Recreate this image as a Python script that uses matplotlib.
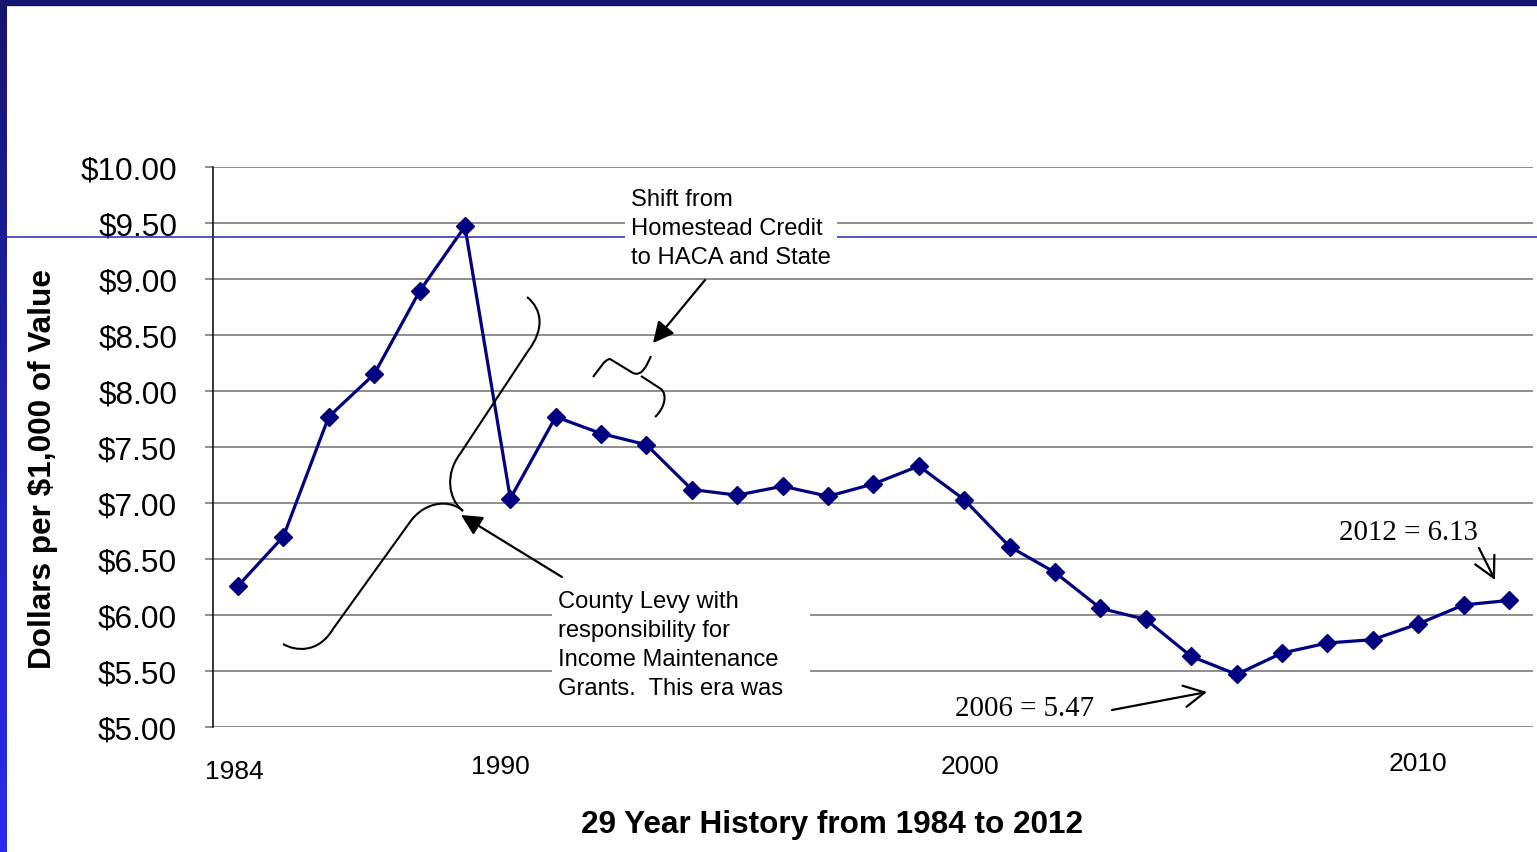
import matplotlib
matplotlib.use('Agg')
import matplotlib.pyplot as plt
import matplotlib.transforms as mtransforms
from matplotlib.patches import Rectangle, FancyArrowPatch, PathPatch
from matplotlib.path import Path
from matplotlib.lines import Line2D
from matplotlib.colors import LinearSegmentedColormap
import numpy as np

# ---------------- data ----------------
years = list(range(1984, 2013))
rates = [6.26, 6.70, 7.77, 8.15, 8.89, 9.47, 7.04, 7.77, 7.62, 7.52,
         7.12, 7.07, 7.15, 7.06, 7.17, 7.33, 7.03, 6.61, 6.38, 6.06,
         5.96, 5.63, 5.47, 5.66, 5.75, 5.78, 5.92, 6.09, 6.13]
yticks = [5.0, 5.5, 6.0, 6.5, 7.0, 7.5, 8.0, 8.5, 9.0, 9.5, 10.0]
ytick_labels = ['$5.00', '$5.50', '$6.00', '$6.50', '$7.00', '$7.50',
                '$8.00', '$8.50', '$9.00', '$9.50', '$10.00']
year_labels = ['1984', '1990', '2000', '2010']
xlabel = '29 Year History from 1984 to 2012'
ylabel = 'Dollars per $1,000 of Value'
shift_note = ['Shift from', 'Homestead Credit', 'to HACA and State']
county_note = ['County Levy with', 'responsibility for',
               'Income Maintenance', 'Grants.  This era was']
note_2006 = '2006 = 5.47'
note_2012 = '2012 = 6.13'

# ---------------- figure ----------------
W, H = 1537, 853
fig = plt.figure(figsize=(W / 100, H / 100), dpi=100)
fig.patch.set_facecolor('white')
SANS = 'Liberation Sans'
SERIF = 'Liberation Serif'

# pixel transform (origin top-left)
pix = mtransforms.Affine2D().scale(1 / W, -1 / H).translate(0, 1) + fig.transFigure

ax = fig.add_axes([213 / W, (H - 728) / H, (1533 - 213) / W, (728 - 168) / H])
ax.set_xlim(1983.45, 2012.53)
ax.set_ylim(5, 10)
ax.set_yticks(yticks)
ax.set_yticklabels(ytick_labels, fontsize=22.7, family=SANS)
ax.set_xticks([])
ax.yaxis.grid(True, color='#7a7a7a', lw=1.2)
ax.set_axisbelow(True)
for s in ['top', 'right', 'bottom']:
    ax.spines[s].set_visible(False)
ax.spines['left'].set_color('black')
ax.spines['left'].set_linewidth(1.1)
ax.tick_params(axis='y', length=5.8, width=1.2, color='#7a7a7a', pad=20)

ax.plot(years, rates, color='#000080', lw=2.3, marker='D', ms=9,
        markerfacecolor='#000080', markeredgecolor='#000080', zorder=5,
        clip_on=False)

# year labels (manually placed text boxes in the original)
yl_x = [1983.91, 1989.77, 2000.13, 2010.0]
yl_y = [-0.0786, -0.0696, -0.0696, -0.0643]
btrans = mtransforms.blended_transform_factory(ax.transData, ax.transAxes)
for lab, xx, yy in zip(year_labels, yl_x, yl_y):
    ax.text(xx, yy, lab, transform=btrans, ha='center', va='center',
            fontsize=19, family=SANS)

fig.text(832 / W, 1 - 825 / H, xlabel, ha='center', va='center',
         fontsize=22.7, fontweight='bold', family=SANS)
fig.text(43 / W, 1 - 469 / H, ylabel, ha='center', va='center', rotation=90,
         fontsize=22.7, fontweight='bold', family=SANS)

# ---------------- slide decoration ----------------
fig.add_artist(Rectangle((0, 0), W, 6, transform=pix, color='#161670', zorder=10))
gax = fig.add_axes([0, 0, 7 / W, 1 - 6 / H], zorder=10)
grad = np.linspace(0, 1, 256).reshape(-1, 1)
cm = LinearSegmentedColormap.from_list('bar', ['#161670', '#2a2af0'])
gax.imshow(grad, aspect='auto', cmap=cm, extent=[0, 1, 0, 1], origin='upper')
gax.axis('off')
fig.add_artist(Line2D([7, W], [238, 238], transform=pix, color='#2626b0',
                      lw=1.1, zorder=1))

# white text boxes
fig.add_artist(Rectangle((625, 183), 212, 87, transform=pix, facecolor='white',
                         edgecolor='none', zorder=2))
fig.add_artist(Rectangle((552, 586), 258, 119, transform=pix, facecolor='white',
                         edgecolor='none', zorder=2))

# annotation texts
for i, t in enumerate(shift_note):
    fig.text(631 / W, 1 - (200 + 29 * i) / H, t, ha='left', va='center',
             fontsize=17.1, family=SANS, zorder=3)
for i, t in enumerate(county_note):
    fig.text(558 / W, 1 - (602 + 29 * i) / H, t, ha='left', va='center',
             fontsize=17.1, family=SANS, zorder=3)
fig.text(955 / W, 1 - 709 / H, note_2006, ha='left', va='center',
         fontsize=20.8, family=SERIF, zorder=3)
fig.text(1339 / W, 1 - 533 / H, note_2012, ha='left', va='center',
         fontsize=20.8, family=SERIF, zorder=3)

# arrows
def arrow(p0, p1, style):
    a = FancyArrowPatch(p0, p1, transform=pix, arrowstyle=style,
                        mutation_scale=14, lw=1.6, color='black',
                        shrinkA=0, shrinkB=0, zorder=4)
    fig.add_artist(a)

arrow((705, 281), (653, 344), '-|>,head_length=0.9,head_width=0.45')
arrow((562, 578), (461, 516), '-|>,head_length=0.9,head_width=0.45')
arrow((1112, 711), (1207, 693), '->,head_length=1.05,head_width=0.55')
arrow((1479, 549), (1495, 581), '->,head_length=1.05,head_width=0.55')

# braces
def curve(verts, codes):
    p = Path(verts, codes)
    fig.add_artist(PathPatch(p, transform=pix, fill=False, lw=1.5,
                             edgecolor='black', zorder=4))

M, C, L = Path.MOVETO, Path.CURVE4, Path.LINETO
curve([(283, 645), (295, 652), (318, 655), (333, 630), (410, 523),
       (425, 502), (450, 500), (463, 512)],
      [M, C, C, C, L, C, C, C])
curve([(463, 512), (448, 500), (445, 475), (460, 455), (528, 352),
       (545, 330), (542, 310), (527, 298)],
      [M, C, C, C, L, C, C, C])
curve([(593, 378), (601, 368), (604, 361), (610, 360), (633, 374),
       (642, 378), (647, 366), (651, 357)],
      [M, C, C, C, L, C, C, C])
curve([(641, 377), (661, 390), (668, 396), (664, 410), (655, 418)],
      [M, L, C, C, C])

fig.savefig('out.png', dpi=100, facecolor='white')
